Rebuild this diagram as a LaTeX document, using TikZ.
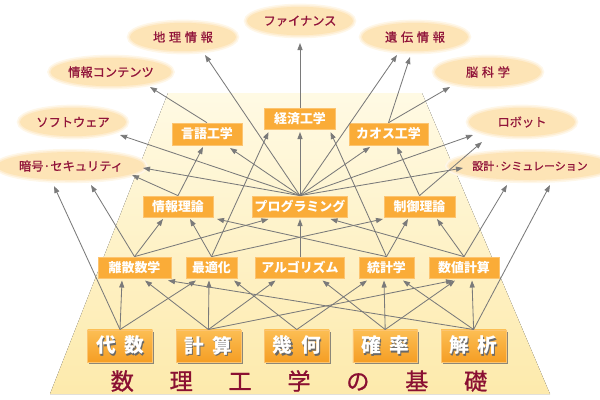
\documentclass[tikz,border=0pt]{standalone}
\usepackage{fontspec}
\setmainfont{Noto Sans CJK JP}
\newfontfamily\ovalfont{Noto Sans CJK JP}[FakeBold=0.9]
\usetikzlibrary{arrows.meta,calc,backgrounds,shadows,shapes.geometric}

\definecolor{boxorange}{RGB}{250,172,56}
\definecolor{boxedge}{RGB}{252,196,112}
\definecolor{basetop}{RGB}{252,190,84}
\definecolor{basebottom}{RGB}{245,158,36}
\definecolor{ovalfill}{RGB}{253,228,182}
\definecolor{ovaltext}{RGB}{145,20,58}
\definecolor{titlered}{RGB}{138,16,50}
\definecolor{arrowgray}{RGB}{122,122,122}
\definecolor{padtop}{RGB}{255,250,228}
\definecolor{padbottom}{RGB}{253,234,172}
\definecolor{embossgray}{RGB}{105,105,105}

% white text with a grey offset copy behind it
\newcommand{\emboss}[1]{\makebox[0pt][l]{\hspace*{0.8pt}\raisebox{-0.8pt}{\textcolor{embossgray}{#1}}}\textcolor{white}{#1}}
\newcommand{\lsp}{\hspace{2.6pt}}

\begin{document}
\begin{tikzpicture}[
    x=0.25mm, y=-0.25mm,
    topic/.style={
      fill=boxorange, draw=boxedge, line width=0.4pt,
      minimum height=5.3mm, inner sep=0pt, text=white,
      font=\fontsize{9.2}{11}\selectfont\bfseries
    },
    base/.style={
      top color=basetop, bottom color=basebottom, draw=boxedge,
      minimum width=16.2mm, minimum height=8.1mm, inner sep=0pt,
      drop shadow={shadow xshift=1.3pt, shadow yshift=-1.3pt,
        fill=black!60, opacity=0.75},
      font=\fontsize{14}{16}\selectfont\bfseries
    },
    field/.style={
      ellipse, fill=ovalfill, inner sep=0pt, minimum height=7.1mm,
      text=ovaltext, font=\ovalfont\fontsize{8.7}{10}\selectfont,
      preaction={draw=ovalfill!30!white, line width=4.5pt},
      preaction={draw=ovalfill!65!white, line width=2.2pt}
    },
    arr/.style={-{Triangle[length=5pt,width=3.6pt]}, draw=arrowgray, line width=0.6pt}
  ]
    \useasboundingbox (0,0) rectangle (600,400);

    % pyramid
    \begin{scope}[on background layer]
      \fill[top color=padtop, bottom color=padbottom]
        (168,93) -- (422,93) -- (550,394) -- (50,394) -- cycle;
    \end{scope}

    % Foundations
    \node[base] (algebra) at (120,346) {\emboss{代\hspace{6pt}数}};
    \node[base] (computing) at (208.4,346) {\emboss{計\hspace{6pt}算}};
    \node[base] (geometry) at (296.8,346) {\emboss{幾\hspace{6pt}何}};
    \node[base] (probability) at (385.2,346) {\emboss{確\hspace{6pt}率}};
    \node[base] (analysis) at (473.6,346) {\emboss{解\hspace{6pt}析}};
    \node[text=titlered, font=\ovalfont\fontsize{16.5}{18}\selectfont] (title) at (299,381)
      {数\hspace{25.4pt}理\hspace{25.4pt}工\hspace{25.4pt}学\hspace{25.4pt}の\hspace{25.4pt}基\hspace{25.4pt}礎};

    % Second row
    \node[topic, minimum width=18.25mm] (discrete) at (134.5,267.5) {離散数学};
    \node[topic, minimum width=12.75mm] (optim) at (211.5,267.5) {最適化};
    \node[topic, minimum width=22.25mm] (algo) at (300,267.5) {アルゴリズム};
    \node[topic, minimum width=13.75mm] (stats) at (386.5,267.5) {統計学};
    \node[topic, minimum width=17.5mm] (numeric) at (464,267.5) {数値計算};

    % Third row
    \node[topic, minimum width=17.5mm] (infotheory) at (178,206.5) {情報理論};
    \node[topic, minimum width=23.75mm] (programming) at (300,206.5) {プログラミング};
    \node[topic, minimum width=17.75mm] (control) at (419.5,206.5) {制御理論};

    % Engineering
    \node[topic, minimum width=17.5mm, minimum height=5.5mm] (linguistics) at (207,134) {言語工学};
    \node[topic, minimum width=17.75mm] (economics) at (300,118.5) {経済工学};
    \node[topic, minimum width=19.75mm, minimum height=5.5mm] (chaos) at (388.5,134) {カオス工学};

    % Applications
    \node[field, minimum width=31.5mm, minimum height=7mm] (crypto) at (71,166) {暗号·セキュリティ};
    \node[field, minimum width=26.5mm] (software) at (73,122) {ソフトウェア};
    \node[field, minimum width=27mm] (content) at (111,72) {情報コンテンツ};
    \node[field, minimum width=26.5mm] (geoinfo) at (183,37) {地\lsp 理\lsp 情\lsp 報};
    \node[field, minimum width=26.5mm] (finance) at (300,21) {ファイナンス};
    \node[field, minimum width=26.5mm] (genetics) at (415,37) {遺\lsp 伝\lsp 情\lsp 報};
    \node[field, minimum width=26.5mm] (brain) at (488,72) {脳\lsp 科\lsp 学};
    \node[field, minimum width=26.5mm] (robot) at (522,122) {ロボット};
    \node[field, minimum width=32.5mm, minimum height=7mm, font=\ovalfont\fontsize{7.8}{9}\selectfont] (design) at (530,166) {設計·シミュレーション};

    % Foundations -> second row
    \draw[arr] (algebra.north) -- ($(discrete)+(-12.5,13)$);
    \draw[arr] (algebra.north) -- ($(optim)+(-15.5,13)$);
    \draw[arr] (algebra.north) -- ($(crypto)+(-17,20)$);
    \draw[arr] (computing.north) -- ($(discrete)+(10.5,13)$);
    \draw[arr] (computing.north) -- ($(optim)+(-2.5,13)$);
    \draw[arr] (computing.north) -- ($(algo)+(-24.5,13)$);
    \draw[arr] (computing.north) -- ($(numeric)+(-11,13)$);
    \draw[arr] (geometry.north) -- ($(optim)+(22.5,13)$);
    \draw[arr] (geometry.north) -- ($(stats)+(-19.5,13)$);
    \draw[arr] (probability.north) -- ($(algo)+(22.5,13)$);
    \draw[arr] (probability.north) -- ($(stats)+(-2.5,13)$);
    \draw[arr] (probability.north) -- ($(numeric)+(-9,13)$);
    \draw[arr] (analysis.north) -- ($(discrete)+(33.5,13)$);
    \draw[arr] (analysis.north) -- ($(stats)+(16.5,13)$);
    \draw[arr] (analysis.north) -- ($(numeric)+(8,13)$);
    \draw[arr] (analysis.north) -- ($(design)+(20,19)$);

    % second row -> third row
    \draw[arr] (discrete.north) -- ($(crypto)+(20,19)$);
    \draw[arr] (discrete.north) -- ($(infotheory)+(-15,12.5)$);
    \draw[arr] (discrete.north) -- ($(programming)+(-31.5,12.5)$);
    \draw[arr] (optim.north) -- ($(infotheory)+(12,12.5)$);
    \draw[arr] (optim.north) -- ($(economics)+(-31.5,13.5)$);
    \draw[arr] (optim.north) -- ($(control)+(-36.5,12.5)$);
    \draw[arr] (algo.north) -- ($(programming)+(0,12.5)$);
    \draw[arr] (stats.north) -- ($(infotheory)+(39,12.5)$);
    \draw[arr] (stats.north) -- ($(economics)+(30.5,13.5)$);
    \draw[arr] (stats.north) -- ($(control)+(-11.5,12.5)$);
    \draw[arr] (numeric.north) -- ($(programming)+(30.5,12.5)$);
    \draw[arr] (numeric.north) -- ($(control)+(17.5,12.5)$);
    \draw[arr] (numeric.north) -- ($(design)+(-23,19)$);

    % third row -> engineering and applications
    \draw[arr] (infotheory.north) -- ($(crypto)+(61,9)$);
    \draw[arr] (infotheory.north) -- ($(linguistics)+(-4,13)$);
    \draw[arr] (programming.north) -- ($(crypto)+(72,2)$);
    \draw[arr] (programming.north) -- ($(software)+(47,13)$);
    \draw[arr] (programming.north) -- ($(geoinfo)+(22,18)$);
    \draw[arr] (programming.north) -- ($(linguistics)+(23,14)$);
    \draw[arr] (programming.north) -- ($(economics)+(0,13.5)$);
    \draw[arr] (programming.north) -- ($(genetics)+(-18,18)$);
    \draw[arr] (programming.north) -- ($(chaos)+(-18.5,13)$);
    \draw[arr] (programming.north) -- ($(robot)+(-49,13)$);
    \draw[arr] (programming.north) -- ($(design)+(-67,2)$);
    \draw[arr] (control.north) -- ($(chaos)+(8.5,13)$);
    \draw[arr] (control.north) -- ($(robot)+(-40,20)$);

    % engineering -> applications
    \draw[arr] (linguistics.north) -- ($(content)+(39,15)$);
    \draw[arr] (economics.north) -- ($(finance)+(0,22)$);
    \draw[arr] (chaos.north) -- ($(genetics)+(-5,20)$);
    \draw[arr] (chaos.north) -- ($(brain)+(-38,15)$);
  \end{tikzpicture}
\end{document}
